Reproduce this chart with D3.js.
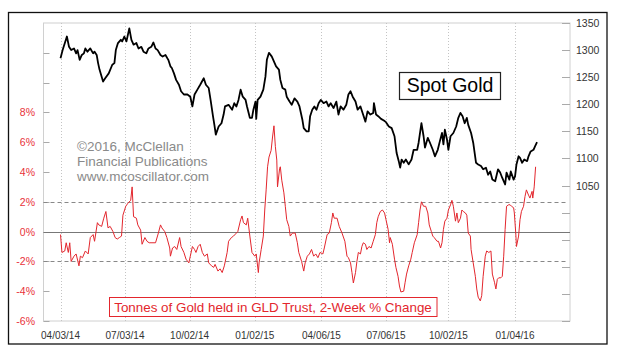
<!DOCTYPE html>
<html><head><meta charset="utf-8">
<script src="https://cdn.jsdelivr.net/npm/d3@7"></script>
<style>
html,body{margin:0;padding:0;background:#fff;}
svg{display:block;font-family:"Liberation Sans",Arial,sans-serif;}
</style></head>
<body><svg id="chart" width="621" height="356"></svg>
<script>
// ---- data ----
const startDate = "2014-04-03";           // day 0
const domainDays = [-24, 718.5];
const xTickDates = ["2014-04-03","2014-07-03","2014-10-02","2015-01-02","2015-04-06","2015-07-06","2015-10-02","2016-01-04"];
const xTickLabels = ["04/03/14","07/03/14","10/02/14","01/02/15","04/06/15","07/06/15","10/02/15","01/04/16"];
const pctTicks = [-6,-4,-2,0,2,4,6,8,10,12];
const pctLabels = ["-6%","-4%","-2%","0%","2%","4%","6%","8%"];
const priceTicks = [800,850,900,950,1000,1050,1100,1150,1200,1250,1300,1350];
const priceLabels = [1050,1100,1150,1200,1250,1300,1350];

// Spot gold (days since start, price)
const goldDays = [0,3,9,12,15,19,22,24,27,30,33,35,38,42,46,48,51,53,55,60,63,68,73,76,78,81,85,87,90,93,95,97,100,103,107,110,114,117,121,124,128,131,134,137,141,144,148,152,155,157,160,163,167,170,174,179,183,186,189,193,197,202,205,209,212,215,217,219,223,227,230,232,237,242,245,248,251,254,257,261,263,267,270,272,275,276,278,282,286,289,291,294,298,302,304,308,310,313,317,319,323,326,330,334,337,341,343,347,350,352,355,358,361,364,367,371,375,378,381,385,389,392,395,399,403,406,409,412,416,419,423,426,430,433,437,441,442,445,448,452,456,459,463,467,471,474,477,479,481,484,487,491,495,498,503,505,509,512,514,518,521,525,528,532,535,538,540,542,545,547,550,554,558,561,564,567,570,573,575,579,582,586,589,593,596,600,603,606,609,613,617,620,623,627,629,633,635,639,641,643,646,648,651,654,658,660,663,667,669,672];
const goldPrice = [1285,1300,1325,1306,1300,1303,1294,1300,1282,1291,1294,1303,1297,1303,1294,1297,1291,1276,1264,1242,1248,1257,1273,1276,1300,1313,1319,1316,1325,1316,1328,1340,1319,1310,1313,1303,1306,1297,1294,1303,1306,1314,1303,1300,1291,1288,1291,1282,1270,1267,1257,1245,1236,1224,1218,1218,1214,1196,1218,1227,1236,1248,1236,1230,1205,1178,1162,1144,1159,1165,1181,1196,1199,1190,1202,1196,1208,1227,1214,1208,1196,1175,1175,1190,1205,1173,1208,1214,1227,1251,1282,1295,1288,1276,1270,1264,1245,1230,1227,1214,1205,1199,1211,1205,1196,1172,1156,1150,1150,1178,1190,1196,1190,1202,1208,1202,1205,1196,1202,1193,1205,1181,1196,1190,1199,1218,1224,1214,1205,1190,1196,1184,1168,1187,1181,1184,1202,1181,1178,1173,1170,1167,1159,1156,1141,1110,1095,1083,1098,1092,1098,1089,1098,1116,1116,1129,1165,1141,1120,1138,1129,1116,1104,1116,1132,1147,1126,1153,1135,1116,1141,1147,1159,1175,1184,1178,1165,1175,1162,1147,1129,1092,1089,1086,1080,1083,1070,1076,1061,1058,1080,1074,1064,1052,1074,1061,1076,1061,1067,1089,1104,1101,1092,1098,1095,1104,1113,1116,1122,1130];

// Tonnes of gold in GLD trust, 2-week % change (days since start, %)
const gldDays = [0,2,6,8,11,13,15,19,22,26,28,31,35,39,42,46,48,52,54,58,61,64,67,70,74,77,80,83,86,88,92,95,99,101,103,107,109,113,115,119,122,125,129,134,138,141,143,147,150,154,155,158,161,164,168,170,174,177,181,183,186,189,191,194,197,200,203,207,209,213,216,218,222,225,228,231,235,237,241,244,248,250,254,256,258,262,264,267,270,274,276,279,280,283,286,288,290,292,294,297,299,301,303,305,306,309,310,312,315,317,319,322,324,327,331,334,336,340,343,345,348,351,354,357,360,363,366,370,372,376,379,382,384,386,390,393,397,401,404,406,409,411,413,416,418,420,423,425,427,430,432,435,438,441,444,446,448,451,454,457,459,462,464,465,468,471,473,476,478,480,484,486,488,491,494,496,499,503,505,507,509,512,515,518,520,523,525,527,531,533,536,538,540,542,545,547,550,552,554,557,559,561,564,566,568,571,573,575,578,579,582,585,587,589,592,594,596,599,601,604,607,609,612,614,616,618,621,623,625,627,629,632,634,636,639,640,642,643,646,648,650,653,655,657,660,662,665,666,668,670];
const gldChange = [-0.2,-1.4,-1.3,-0.75,-1.4,-0.75,-2.0,-1.65,-1.5,-2.3,-1.65,-1.75,-1.3,-1.5,-0.4,-0.2,-0.65,0.6,0.45,0.35,0.9,1.35,0.25,0.35,0.0,-0.4,-0.5,-0.4,-0.3,1.1,1.7,1.9,2.1,3.0,1.0,0.9,0.45,0.1,-0.85,-0.4,-0.65,-0.75,-0.75,-0.75,-0.1,0.45,0.25,0.0,-0.4,-1.1,-1.65,-1.1,-1.0,-1.2,-0.4,-1.0,-1.4,-1.85,-2.1,-1.65,-1.0,-1.2,-1.4,-1.0,-0.85,-1.4,-1.65,-1.5,-2.1,-2.3,-2.4,-2.2,-2.65,-2.5,-2.75,-2.3,-1.4,-0.65,-0.4,-0.3,-0.1,0.0,0.8,1.05,0.6,0.45,0.9,-0.3,-1.4,-1.65,-1.5,-2.75,-2.1,-1.2,-0.3,1.45,2.8,4.35,5.0,5.45,6.35,7.1,5.7,4.8,3.0,4.25,4.35,3.45,2.6,1.7,0.8,0.35,-0.3,-0.1,-0.1,-0.75,-1.4,-2.0,-2.65,-2.1,-1.65,-1.5,-1.2,-1.65,-1.5,-1.75,-1.4,-1.5,-1.1,-0.2,-0.1,0.6,1.25,0.9,0.9,0.35,-0.1,-0.65,-1.65,-1.75,-2.1,-2.75,-3.45,-2.75,-2.0,-1.4,-1.5,-1.0,-0.75,-0.85,-1.2,-1.0,-1.1,-0.65,-0.2,0.6,1.0,1.35,1.45,1.25,0.8,0.15,-0.75,-0.4,-0.85,-1.85,-2.4,-3.0,-3.65,-4.05,-4.0,-3.4,-2.85,-2.3,-1.85,-1.4,-0.75,-0.2,0.6,1.45,2.0,1.7,1.7,1.25,0.45,0.0,-0.3,-0.4,-0.65,-0.65,-1.1,-0.75,0.15,0.7,0.9,1.45,1.8,2.1,1.7,0.7,1.25,0.6,0.9,1.45,1.35,1.25,1.1,-0.1,-0.3,-1.2,-2.1,-3.0,-3.85,-4.4,-4.65,-4.3,-3.0,-1.65,-1.3,-1.4,-1.3,-2.85,-3.4,-3.85,-3.2,-3.1,-3.1,-3.0,-1.65,0.15,1.7,1.8,1.8,1.7,1.6,1.25,-0.1,-1.0,-0.3,0.8,1.35,1.7,2.35,2.8,2.45,2.25,2.7,2.25,3.0,4.35];

// ---- layout ----
const W = 621, H = 356;
const plot = {left: 43.5, right: 570, top: 23, bottom: 321};
const RED = "#e3262d", LABEL_RED = "#e8323a";

const svg = d3.select("#chart");
const day0 = new Date(startDate + "T00:00:00Z");
const toDate = d => d3.utcDay.offset(day0, 0) .getTime() + d * 86400000;

const x = d3.scaleUtc()
  .domain(domainDays.map(d => new Date(toDate(d))))
  .range([plot.left, plot.right]);
const yPct = d3.scaleLinear().domain([-6, 14]).range([plot.bottom, plot.top]);
const yGold = d3.scaleLinear().domain([800, 1350]).range([plot.bottom, plot.top]);

svg.append("rect").attr("width", W).attr("height", H).attr("fill", "#fff");
// outer frame
svg.append("rect").attr("x", 8.5).attr("y", 12.5).attr("width", 598.5).attr("height", 331.5)
  .attr("fill", "none").attr("stroke", "#111").attr("stroke-width", 1.3);

// plot frame
svg.append("rect").attr("x", plot.left).attr("y", plot.top)
  .attr("width", plot.right - plot.left).attr("height", plot.bottom - plot.top)
  .attr("fill", "#fff").attr("stroke", "#d0d0d0").attr("stroke-width", 1);

// vertical dotted gridlines
const tickDates = xTickDates.map(s => new Date(s + "T00:00:00Z"));
svg.append("g").selectAll("line").data(tickDates).join("line")
  .attr("x1", d => Math.round(x(d)) + 0.5).attr("x2", d => Math.round(x(d)) + 0.5)
  .attr("y1", plot.top).attr("y2", plot.bottom)
  .attr("stroke", "#c4c4c4").attr("stroke-width", 1).attr("stroke-dasharray", "1,2");

// x labels
svg.append("g").selectAll("text").data(tickDates).join("text")
  .attr("x", d => x(d)).attr("y", 338.5).attr("text-anchor", "middle")
  .attr("font-size", 10).attr("fill", "#333")
  .text((d, i) => xTickLabels[i]);

// left ticks (inward)
svg.append("g").selectAll("line").data(pctTicks).join("line")
  .attr("x1", plot.left).attr("x2", plot.left + 6)
  .attr("y1", d => Math.round(yPct(d)) + 0.5).attr("y2", d => Math.round(yPct(d)) + 0.5)
  .attr("stroke", "#aaa");
svg.append("g").selectAll("text").data(pctTicks.filter(v => v <= 8)).join("text")
  .attr("x", 35).attr("y", d => yPct(d) + 4).attr("text-anchor", "end")
  .attr("font-size", 10.5).attr("fill", LABEL_RED)
  .text((d, i) => pctLabels[i]);

// right ticks (inward)
svg.append("g").selectAll("line").data(priceTicks).join("line")
  .attr("x1", plot.right - 8).attr("x2", plot.right)
  .attr("y1", d => Math.round(yGold(d)) + 0.5).attr("y2", d => Math.round(yGold(d)) + 0.5)
  .attr("stroke", "#aaa");
svg.append("g").selectAll("text").data(priceLabels).join("text")
  .attr("x", 576).attr("y", d => yGold(d) + 4).attr("text-anchor", "start")
  .attr("font-size", 10.5).attr("fill", "#333")
  .text(d => d);

// reference lines
svg.append("line").attr("x1", plot.left).attr("x2", plot.right)
  .attr("y1", Math.round(yPct(0)) + 0.5).attr("y2", Math.round(yPct(0)) + 0.5)
  .attr("stroke", "#777").attr("stroke-width", 1.2);
[2, -2].forEach(v => {
  svg.append("line").attr("x1", plot.left).attr("x2", 567)
    .attr("y1", Math.round(yPct(v)) + 0.5).attr("y2", Math.round(yPct(v)) + 0.5)
    .attr("stroke", "#888").attr("stroke-width", 1).attr("stroke-dasharray", "4,3");
});

// copyright text
const copy = ["\u00A92016, McClellan", "Financial Publications", "www.mcoscillator.com"];
svg.append("g").selectAll("text").data(copy).join("text")
  .attr("x", 77).attr("y", (d, i) => 150.7 + i * 15)
  .attr("font-size", 13.5).attr("fill", "#8a8a8a").text(d => d);

// GLD line
const gld = gldDays.map((d, i) => ({date: new Date(toDate(d)), v: gldChange[i]}));
svg.append("path").datum(gld)
  .attr("d", d3.line().x(d => x(d.date)).y(d => yPct(d.v)))
  .attr("fill", "none").attr("stroke", RED).attr("stroke-width", 1).attr("stroke-linejoin", "round");

// Gold line
const gold = goldDays.map((d, i) => ({date: new Date(toDate(d)), v: goldPrice[i]}));
svg.append("path").datum(gold)
  .attr("d", d3.line().x(d => x(d.date)).y(d => yGold(d.v)))
  .attr("fill", "none").attr("stroke", "#000").attr("stroke-width", 1.8).attr("stroke-linejoin", "round");

// Spot Gold box
svg.append("rect").attr("x", 399.5).attr("y", 72.5).attr("width", 101).attr("height", 27)
  .attr("fill", "#fff").attr("stroke", "#222").attr("stroke-width", 1.2);
svg.append("text").attr("x", 450).attr("y", 92).attr("text-anchor", "middle")
  .attr("font-size", 19.5).attr("fill", "#000").text("Spot Gold");

// legend box for GLD
svg.append("rect").attr("x", 109.5).attr("y", 297.5).attr("width", 327.5).attr("height", 19)
  .attr("fill", "#fff").attr("stroke", RED).attr("stroke-width", 1);
svg.append("text").attr("x", 273).attr("y", 312).attr("text-anchor", "middle")
  .attr("font-size", 13.4).attr("fill", RED)
  .text("Tonnes of Gold held in GLD Trust, 2-Week % Change");
</script>
</body></html>
